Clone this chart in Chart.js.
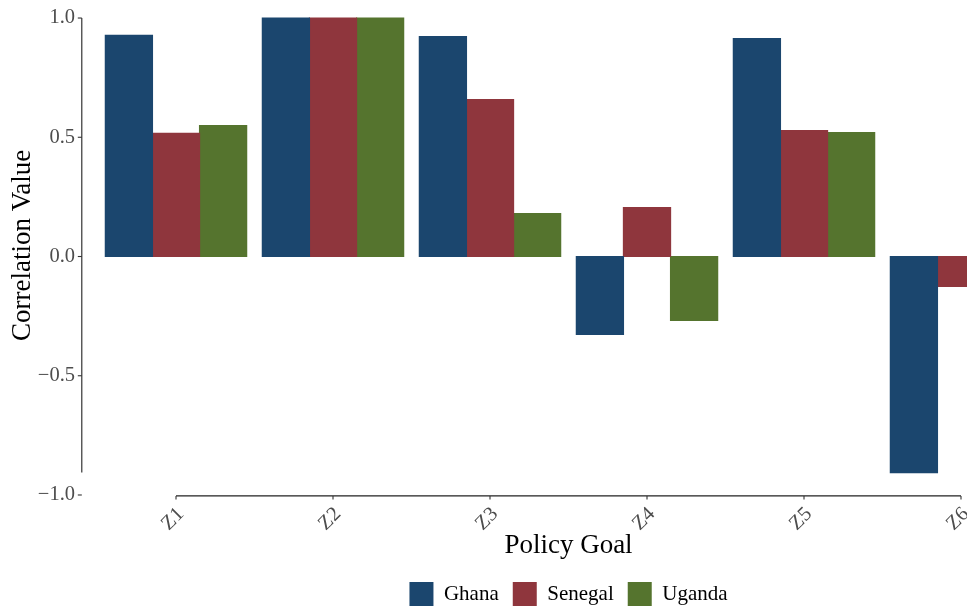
<!DOCTYPE html>
<html>
<head>
<meta charset="utf-8">
<script src="https://cdn.jsdelivr.net/npm/chart.js@4"></script>
<style>
  html, body { margin: 0; padding: 0; width: 967px; height: 610px; overflow: hidden; background: #ffffff; }
  #wrap { position: relative; width: 967px; height: 610px; overflow: hidden; }
  #c { position: absolute; left: 0; top: -30px; }
</style>
</head>
<body>
<div id="wrap"><canvas id="c" width="1150" height="650"></canvas></div>
<script>
// ---- data ----
const categories = ["Z1", "Z2", "Z3", "Z4", "Z5", "Z6"];
const seriesNames = ["Ghana", "Senegal", "Uganda"];
const ghana   = [0.927, 1.0, 0.922, -0.327, 0.914, -0.906];
const senegal = [0.516, 1.0, 0.658,  0.205, 0.528, -0.125];
const uganda  = [0.549, 1.0, 0.180, -0.268, 0.520, null];
const yTickValues = [-1.0, -0.5, 0.0, 0.5, 1.0];
const yTickLabels = ["\u22121.0", "\u22120.5", "0.0", "0.5", "1.0"];
const xTitle = "Policy Goal";
const yTitle = "Correlation Value";

const colors = ["#1B466E", "#8F363D", "#55742E"];
const serif = "'Liberation Serif', 'Times New Roman', serif";

const allVals = [].concat(ghana, senegal, uganda).filter(v => v !== null);
const dataMin = Math.min.apply(null, allVals);
const dataMax = Math.max.apply(null, allVals);

const rangeFrame = {
  id: 'rangeFrame',
  afterDraw(chart) {
    const ctx = chart.ctx;
    const xs = chart.scales.x, ys = chart.scales.y;
    const bin = xs.getPixelForValue(1) - xs.getPixelForValue(0);
    const yLineX = xs.getPixelForValue(0) - 0.6 * bin;
    const xLineY = chart.chartArea.bottom + 0.6;
    ctx.save();
    ctx.strokeStyle = '#222222';
    ctx.lineWidth = 1.1;
    // y range frame
    ctx.beginPath();
    ctx.moveTo(yLineX, ys.getPixelForValue(dataMax));
    ctx.lineTo(yLineX, ys.getPixelForValue(dataMin));
    ctx.stroke();
    // y tick marks
    ctx.strokeStyle = '#333333';
    yTickValues.forEach(v => {
      const y = ys.getPixelForValue(v);
      ctx.beginPath();
      ctx.moveTo(yLineX - 4, y);
      ctx.lineTo(yLineX, y);
      ctx.stroke();
    });
    // x range frame
    ctx.strokeStyle = '#222222';
    ctx.beginPath();
    ctx.moveTo(xs.getPixelForValue(0), xLineY);
    ctx.lineTo(xs.getPixelForValue(categories.length - 1), xLineY);
    ctx.stroke();
    // x tick marks
    ctx.strokeStyle = '#333333';
    categories.forEach((c, i) => {
      const x = xs.getPixelForValue(i);
      ctx.beginPath();
      ctx.moveTo(x, xLineY);
      ctx.lineTo(x, xLineY + 3.5);
      ctx.stroke();
    });
    ctx.restore();
  }
};

new Chart(document.getElementById('c'), {
  type: 'bar',
  data: {
    labels: categories,
    datasets: [
      { label: seriesNames[0], data: ghana,   backgroundColor: colors[0] },
      { label: seriesNames[1], data: senegal, backgroundColor: colors[1] },
      { label: seriesNames[2], data: uganda,  backgroundColor: colors[2] }
    ]
  },
  options: {
    responsive: false,
    animation: false,
    devicePixelRatio: 1,
    layout: { padding: { left: 0, right: 110.5, top: 25.3, bottom: 4 } },
    datasets: { bar: { categoryPercentage: 0.9, barPercentage: 1.0, borderWidth: 0, inflateAmount: 0.6 } },
    plugins: {
      legend: {
        position: 'bottom',
        fullSize: false,
        labels: {
          boxWidth: 24, boxHeight: 24, padding: 14,
          color: '#000000',
          font: { family: serif, size: 21 }
        }
      },
      tooltip: { enabled: false }
    },
    scales: {
      x: {
        type: 'category',
        offset: true,
        grid: { display: false, drawTicks: false },
        border: { display: false },
        ticks: {
          autoSkip: false, minRotation: 45, maxRotation: 45, padding: 7, labelOffset: 5,
          color: '#4D4D4D', font: { family: serif, size: 20.5 }
        },
        title: { display: true, text: xTitle, color: '#000000',
                 font: { family: serif, size: 27 }, padding: { top: 4, bottom: 6 } },
        afterFit(s) { s.height = 72.7; s.paddingLeft = 0; s.paddingRight = 0; }
      },
      y: {
        type: 'linear',
        min: -1.0013, max: 1.0953,
        grid: { display: false, drawTicks: false },
        border: { display: false },
        afterBuildTicks(s) { s.ticks = yTickValues.map(v => ({ value: v })); },
        ticks: {
          padding: 22.5,
          color: '#4D4D4D', font: { family: serif, size: 20.5 },
          callback: (v) => { const i = yTickValues.indexOf(v); return i >= 0 ? yTickLabels[i] : ''; }
        },
        title: { display: true, text: yTitle, color: '#000000',
                 font: { family: serif, size: 27 }, padding: { top: 7, bottom: 4 } },
        afterFit(s) { s.width = 97.5; s.paddingTop = 0; s.paddingBottom = 0; }
      }
    }
  },
  plugins: [rangeFrame]
});
</script>
</body>
</html>
